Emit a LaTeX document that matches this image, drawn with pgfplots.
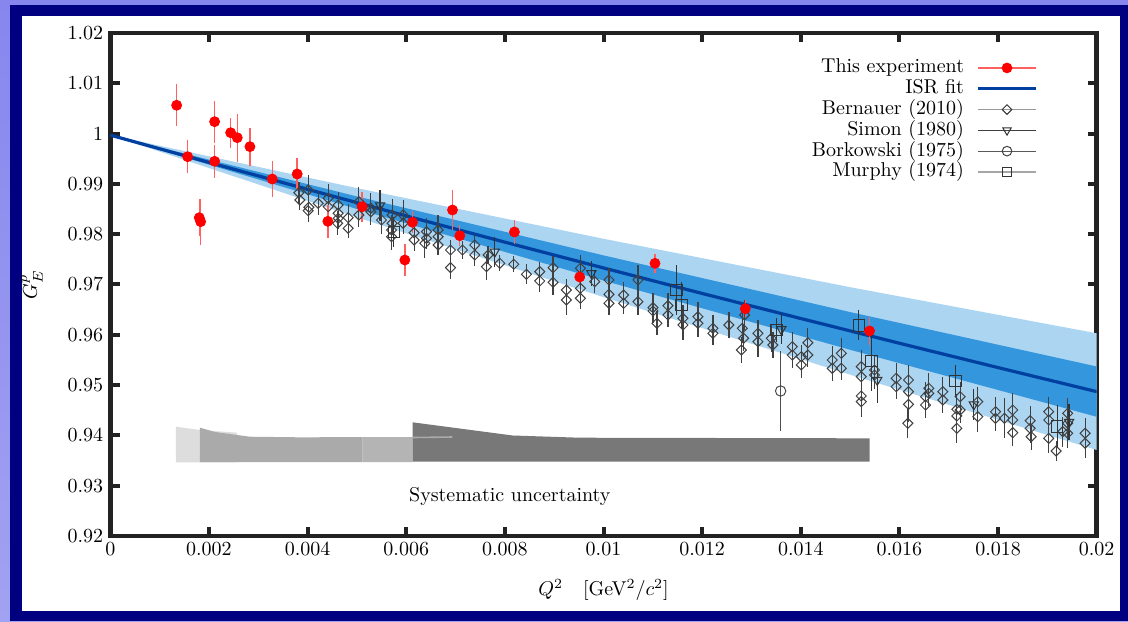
\documentclass[border=0pt]{standalone}
\usepackage{pgfplots}
\pgfplotsset{compat=1.18}
\usepackage{pgfplotstable}

\definecolor{slidebgtop}{RGB}{134,134,238}
\definecolor{slidebgbot}{RGB}{162,162,242}
\definecolor{framenavy}{RGB}{0,0,128}
\definecolor{bandlight}{RGB}{172,213,241}
\definecolor{banddark}{RGB}{52,150,220}
\definecolor{fitblue}{RGB}{0,64,160}
\definecolor{syslight}{RGB}{221,221,221}
\definecolor{sysmid}{RGB}{170,170,170}
\definecolor{sysmidb}{RGB}{180,180,180}
\definecolor{sysdark}{RGB}{120,120,120}
\definecolor{errred}{RGB}{255,96,96}
\definecolor{axisgray}{RGB}{34,34,34}

% This experiment (ISR): Q^2 [GeV^2/c^2], G_E^p, statistical error
\pgfplotstableread{
q v e
0.001345 1.00563 0.0042
0.001568 0.99541 0.0033
0.001804 0.98328 0.0037
0.001832 0.98249 0.0046
0.002115 1.00237 0.0042
0.002115 0.99449 0.0033
0.002440 1.00018 0.0030
0.002574 0.99919 0.0048
0.002831 0.99740 0.0038
0.003283 0.99097 0.0035
0.003789 0.99197 0.0031
0.004411 0.98256 0.0033
0.005107 0.98547 0.0030
0.005972 0.97487 0.0031
0.006127 0.98237 0.0022
0.006938 0.98481 0.0040
0.007086 0.97970 0.0021
0.008194 0.98044 0.0024
0.009518 0.97149 0.0014
0.011044 0.97421 0.0019
0.012875 0.96519 0.0017
0.015394 0.96076 0.0027
}\thisexp

% Bernauer (2010)
\pgfplotstableread{
q v e
0.003824 0.98825 0.0022
0.003844 0.98680 0.0020
0.004012 0.98879 0.0030
0.004026 0.98535 0.0025
0.004012 0.98467 0.0022
0.004215 0.98614 0.0024
0.004417 0.98714 0.0028
0.004417 0.98547 0.0022
0.004620 0.98581 0.0026
0.004620 0.98416 0.0020
0.004620 0.98316 0.0022
0.004608 0.98217 0.0024
0.004823 0.98328 0.0028
0.004823 0.98117 0.0020
0.005040 0.98646 0.0030
0.005040 0.98382 0.0024
0.005283 0.98515 0.0030
0.005283 0.98447 0.0026
0.005499 0.98282 0.0028
0.005714 0.98382 0.0032
0.005714 0.98217 0.0024
0.005702 0.98083 0.0030
0.005702 0.97950 0.0026
0.005937 0.98382 0.0030
0.005937 0.98217 0.0022
0.006160 0.98030 0.0026
0.006160 0.97885 0.0022
0.006377 0.97819 0.0030
0.006411 0.98050 0.0028
0.006411 0.97918 0.0022
0.006646 0.98083 0.0030
0.006646 0.97950 0.0024
0.006646 0.97785 0.0020
0.006898 0.97686 0.0020
0.006898 0.97334 0.0022
0.007141 0.97686 0.0018
0.007390 0.97785 0.0020
0.007390 0.97587 0.0022
0.007660 0.97587 0.0018
0.007627 0.97354 0.0026
0.007897 0.97422 0.0016
0.008180 0.97402 0.0016
0.008438 0.97203 0.0020
0.008707 0.97255 0.0020
0.008707 0.97070 0.0022
0.008977 0.97334 0.0024
0.008977 0.97044 0.0026
0.009248 0.96891 0.0022
0.009248 0.96692 0.0030
0.009532 0.97322 0.0026
0.009532 0.96924 0.0024
0.009532 0.96726 0.0022
0.009822 0.97056 0.0022
0.010111 0.97090 0.0024
0.010111 0.96805 0.0026
0.010111 0.96626 0.0024
0.010409 0.96791 0.0026
0.010409 0.96626 0.0022
0.010699 0.97090 0.0030
0.010699 0.96658 0.0026
0.011003 0.96539 0.0030
0.011003 0.96473 0.0024
0.011084 0.96229 0.0024
0.011307 0.96579 0.0026
0.011307 0.96394 0.0024
0.011611 0.96328 0.0026
0.011611 0.96195 0.0030
0.011915 0.96360 0.0030
0.011915 0.96229 0.0028
0.012219 0.96129 0.0026
0.012219 0.96030 0.0024
0.012543 0.96195 0.0026
0.012815 0.96129 0.0030
0.012861 0.96394 0.0030
0.012841 0.95930 0.0026
0.012794 0.95698 0.0026
0.013131 0.96030 0.0026
0.013131 0.95863 0.0030
0.013402 0.95930 0.0028
0.013435 0.95797 0.0026
0.013828 0.95763 0.0030
0.013828 0.95598 0.0026
0.014010 0.95565 0.0024
0.014010 0.95400 0.0026
0.014144 0.95843 0.0030
0.014144 0.95598 0.0024
0.014638 0.95499 0.0028
0.014638 0.95334 0.0026
0.014821 0.95632 0.0030
0.014821 0.95334 0.0024
0.015226 0.95366 0.0034
0.015226 0.95167 0.0030
0.015226 0.94783 0.0034
0.015226 0.94670 0.0030
0.015495 0.95300 0.0030
0.015495 0.95201 0.0028
0.015935 0.95135 0.0030
0.015935 0.94968 0.0024
0.016184 0.95101 0.0030
0.016184 0.94869 0.0030
0.016184 0.94618 0.0036
0.016170 0.94241 0.0030
0.016529 0.94769 0.0030
0.016529 0.94604 0.0026
0.016596 0.94936 0.0030
0.016596 0.94837 0.0026
0.016880 0.94869 0.0030
0.016880 0.94704 0.0026
0.017163 0.94519 0.0030
0.017163 0.94386 0.0030
0.017163 0.94141 0.0030
0.017232 0.94769 0.0030
0.017232 0.94505 0.0026
0.017589 0.94670 0.0030
0.017589 0.94372 0.0030
0.017948 0.94471 0.0030
0.017948 0.94340 0.0026
0.018130 0.94340 0.0040
0.018298 0.94505 0.0034
0.018298 0.94306 0.0030
0.018298 0.94054 0.0026
0.018651 0.94292 0.0030
0.018651 0.94141 0.0030
0.018671 0.93974 0.0026
0.019027 0.94471 0.0030
0.019027 0.94306 0.0030
0.019027 0.93942 0.0030
0.019177 0.93690 0.0020
0.019311 0.94074 0.0030
0.019412 0.94439 0.0030
0.019412 0.94241 0.0034
0.019412 0.94042 0.0030
0.019765 0.94042 0.0030
0.019765 0.93843 0.0030
}\bernauer

% Simon (1980)
\pgfplotstableread{
q v e
0.005470 0.98571 0.0030
0.007795 0.97652 0.0030
0.009755 0.97223 0.0025
0.013605 0.96109 0.0030
0.015550 0.95101 0.0045
0.017508 0.94614 0.0030
0.019440 0.94266 0.0035
}\simon

% Borkowski (1975)
\pgfplotstableread{
q v e
0.013591 0.94883 0.0080
}\borkowski

% Murphy (1974)
\pgfplotstableread{
q v e
0.005749 0.98044 0.0030
0.011477 0.96891 0.0050
0.011579 0.96592 0.0045
0.013504 0.96095 0.0023
0.015177 0.96189 0.0030
0.015429 0.95479 0.0060
0.017131 0.95081 0.0031
0.019198 0.94173 0.0043
}\murphy

\begin{document}
\begin{tikzpicture}
% slide background and frame
\shade[top color=slidebgtop, bottom color=slidebgbot] (0,0) rectangle (564pt,310.5pt);
\fill[framenavy] (5pt,0) rectangle (564pt,308pt);
\fill[white] (11pt,5pt) rectangle (560pt,302.5pt);

\begin{axis}[
  at={(55.15pt,42.5pt)}, anchor=south west,
  scale only axis, width=493.2pt, height=251.5pt,
  xmin=0, xmax=0.02, ymin=0.92, ymax=1.02,
  xtick={0,0.002,0.004,0.006,0.008,0.01,0.012,0.014,0.016,0.018,0.02},
  ytick={0.92,0.93,0.94,0.95,0.96,0.97,0.98,0.99,1,1.01,1.02},
  scaled x ticks=false, scaled y ticks=false,
  xticklabel style={/pgf/number format/fixed,/pgf/number format/precision=3},
  yticklabel style={/pgf/number format/fixed,/pgf/number format/precision=2},
  tick align=inside,
  major tick length=4.6pt,
  tick style={line width=2pt, color=axisgray},
  axis line style={line width=2.3pt, color=axisgray},
  xlabel={$Q^2$\quad [GeV$^2/c^2$]},
  ylabel={$G_E^p$},
  xlabel style={at={(rel axis cs:0.5,-0.107)}, anchor=center},
  ylabel style={at={(rel axis cs:-0.0794,0.5)}, anchor=center},
  legend style={draw=none, fill=none, at={(0.9405,0.952)}, anchor=north east,
    inner sep=0pt, row sep=0pt,
    nodes={inner sep=0.2pt, text height=0.75em, text depth=0.25em},
    /tikz/every odd column/.append style={column sep=6pt}},
  legend cell align=right,
  legend plot pos=right,
  legend image code/.code={%
    \draw[mark repeat=2,mark phase=2] plot coordinates {(0pt,0pt) (14.5pt,0pt) (29pt,0pt)};},
]

% ISR fit: 1 sigma and 2 sigma bands, central curve
\addplot[fill=bandlight, draw=none, forget plot] coordinates {
  (0,0.9997) (0.005,0.98916) (0.01,0.97909) (0.015,0.96947) (0.02,0.9603)
  (0.02,0.9371) (0.015,0.95207) (0.01,0.96749) (0.005,0.98336)};
\addplot[fill=banddark, draw=none, forget plot] coordinates {
  (0,0.9997) (0.005,0.98751) (0.01,0.97579) (0.015,0.96452) (0.02,0.9537)
  (0.02,0.9437) (0.015,0.95702) (0.01,0.97079) (0.005,0.98501)};
\addplot[fitblue, line width=1.6pt, forget plot] coordinates {
  (0,0.9997) (0.002,0.99427) (0.004,0.98892) (0.006,0.98363) (0.008,0.97842)
  (0.01,0.97329) (0.012,0.96822) (0.014,0.96324) (0.016,0.95832) (0.018,0.95348) (0.02,0.9487)};

% systematic uncertainty bands
\addplot[fill=syslight, draw=none, forget plot] coordinates {
  (0.001331,0.93465) (0.001331,0.94173) (0.001818,0.94107) (0.002567,0.94054) (0.002567,0.93465)};
\addplot[fill=sysmid, draw=none, forget plot] coordinates {
  (0.001818,0.93470) (0.001818,0.94153) (0.002122,0.94068) (0.002831,0.93974)
  (0.003844,0.93962) (0.005115,0.93966) (0.005115,0.93470)};
\addplot[fill=sysmidb, draw=none, forget plot] coordinates {
  (0.005115,0.93470) (0.005115,0.93966) (0.006129,0.93968) (0.006129,0.93470)};
\addplot[fill=sysdark, draw=none, forget plot] coordinates {
  (0.006129,0.93477) (0.006129,0.94260) (0.008160,0.93998) (0.009518,0.93954)
  (0.015394,0.93942) (0.015394,0.93477)};
\addplot[sysmid, line width=0.8pt, forget plot] coordinates {(0.006129,0.93958) (0.006938,0.93968)};
\node[anchor=center] at (axis cs:0.0081,0.92795) {Systematic uncertainty};

% earlier measurements
\addplot[only marks, mark=square, mark size=1.77pt,
  mark options={rotate=45, draw=black!75, line width=0.5pt, fill=none}, forget plot,
  error bars/.cd, y dir=both, y explicit, error mark=none,
  error bar style={line width=0.6pt, black!75}]
  table[x=q, y=v, y error=e] {\bernauer};
\addplot[only marks, mark=triangle, mark size=2.7pt,
  mark options={rotate=180, draw=black!80, line width=0.5pt, fill=none}, forget plot,
  error bars/.cd, y dir=both, y explicit, error mark=none,
  error bar style={line width=0.6pt, black!80}]
  table[x=q, y=v, y error=e] {\simon};
\addplot[only marks, mark=o, mark size=2.6pt,
  mark options={draw=black!70, line width=0.5pt}, forget plot,
  error bars/.cd, y dir=both, y explicit, error mark=none,
  error bar style={line width=0.6pt, black!70}]
  table[x=q, y=v, y error=e] {\borkowski};
\addplot[only marks, mark=square, mark size=2.9pt,
  mark options={draw=black!80, line width=0.5pt, fill=none}, forget plot,
  error bars/.cd, y dir=both, y explicit, error mark=none,
  error bar style={line width=0.6pt, black!80}]
  table[x=q, y=v, y error=e] {\murphy};

% this experiment
\addplot[only marks, mark=*, mark size=2.5pt,
  mark options={draw=red, fill=red}, forget plot,
  error bars/.cd, y dir=both, y explicit, error mark=none,
  error bar style={line width=0.7pt, errred}]
  table[x=q, y=v, y error=e] {\thisexp};

% legend samples
\addlegendimage{errred, line width=0.7pt, mark=*, mark size=2.3pt, mark options={draw=red, fill=red}}
\addlegendentry{This experiment}
\addlegendimage{fitblue, line width=1.6pt}
\addlegendentry{ISR fit}
\addlegendimage{black!40, line width=0.8pt, mark=square, mark size=1.7pt, mark options={rotate=45, draw=black!80, line width=0.5pt, fill=white}}
\addlegendentry{Bernauer (2010)}
\addlegendimage{black!75, line width=0.6pt, mark=triangle, mark size=2.4pt, mark options={rotate=180, draw=black!80, line width=0.5pt, fill=white}}
\addlegendentry{Simon (1980)}
\addlegendimage{black!65, line width=0.6pt, mark=o, mark size=2.4pt, mark options={draw=black!75, line width=0.5pt, fill=white}}
\addlegendentry{Borkowski (1975)}
\addlegendimage{black!35, line width=0.8pt, mark=square, mark size=2.4pt, mark options={draw=black!80, line width=0.5pt, fill=white}}
\addlegendentry{Murphy (1974)}
\end{axis}
\pgfresetboundingbox
\useasboundingbox (0,0) rectangle (564pt,310.5pt);
\end{tikzpicture}
\end{document}
